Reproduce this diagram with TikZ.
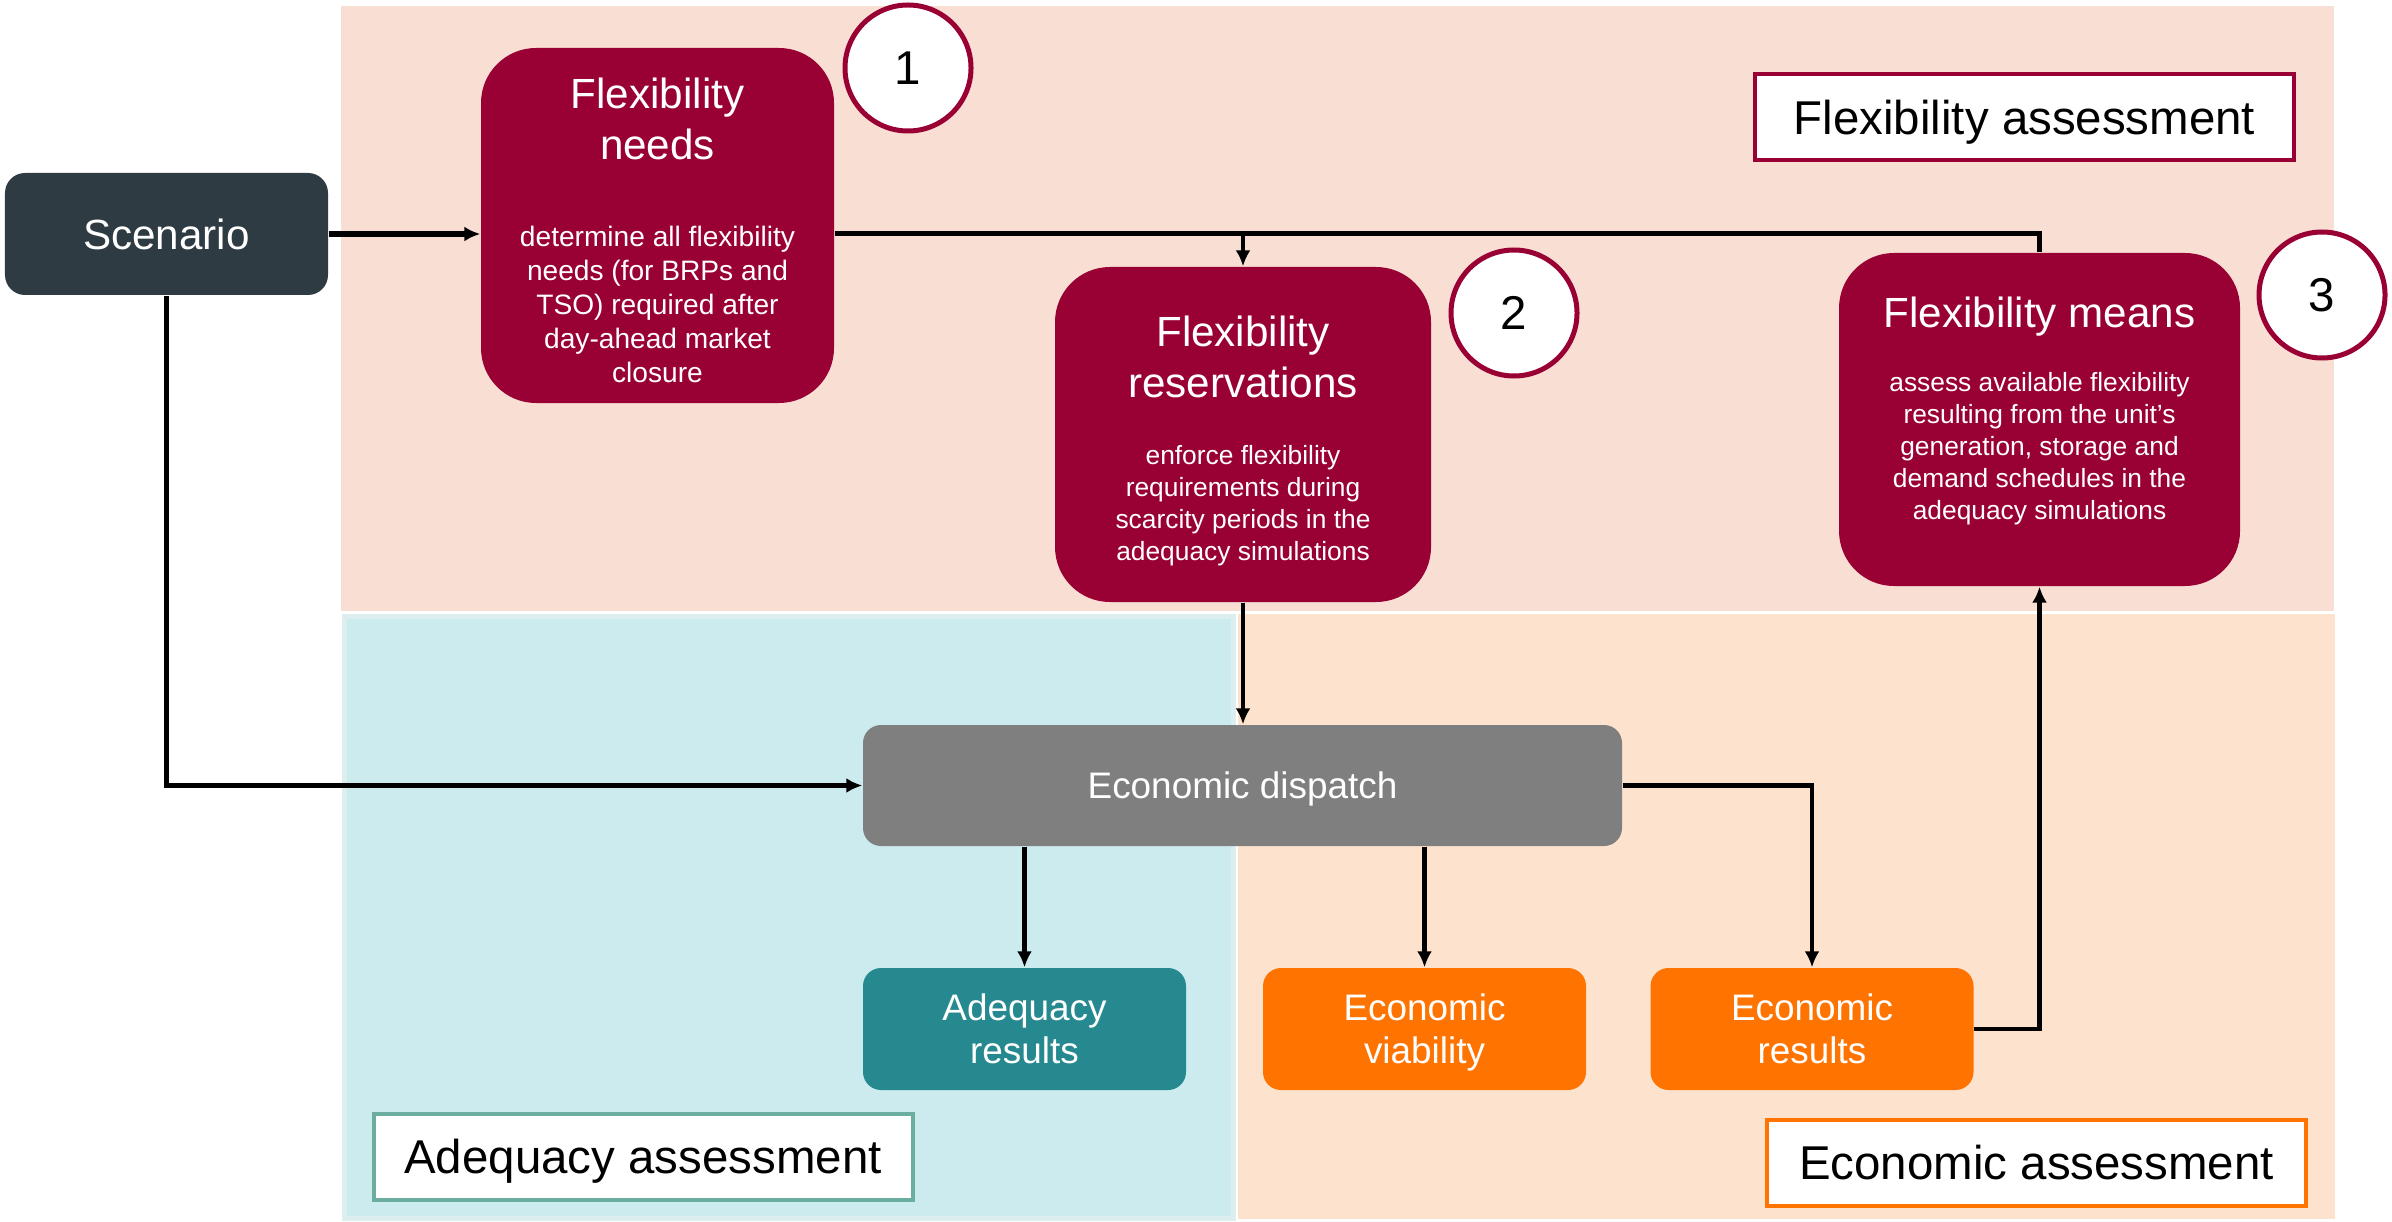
\documentclass[tikz,border=0pt]{standalone}
\usepackage{fontspec}
\setmainfont{Liberation Sans}
\usepackage{tikz}
\usetikzlibrary{arrows.meta}
\definecolor{flexred}{HTML}{990033}
\definecolor{scengray}{HTML}{2E3B43}
\definecolor{dispgray}{HTML}{7F7F7F}
\definecolor{adqteal}{HTML}{26898F}
\definecolor{ecoorange}{HTML}{FF7300}
\definecolor{flexbg}{HTML}{F9DED4}
\definecolor{adqbg}{HTML}{CBEBEF}
\definecolor{adqedge}{HTML}{DDEEEE}
\definecolor{ecobg}{HTML}{FDE3CD}
\definecolor{adqline}{HTML}{6BAE9F}

\begin{document}
\begin{tikzpicture}[
x=1mm, y=-1mm,
Box/.style={rounded corners=1.8mm, text=white, align=center, inner sep=0pt, text depth=0pt},
FlexBox/.style={fill=flexred, rounded corners=5.5mm, inner sep=0pt},
TitleText/.style={text=white, align=center, inner sep=0pt, text depth=0pt, font=\fontsize{12}{14.4}\selectfont},
DescText/.style={text=white, align=center, inner sep=0pt, text depth=0pt, font=\fontsize{7.5}{9.1}\selectfont},
NumCircle/.style={circle, draw=flexred, fill=white, line width=0.5mm, minimum size=12.6mm, inner sep=0pt, text depth=0pt, font=\fontsize{13.5}{16}\selectfont},
Label/.style={fill=white, line width=0.4mm, minimum height=8.6mm, minimum width=53.9mm, inner sep=0pt, text depth=0pt, font=\fontsize{13.5}{16}\selectfont},
Flow/.style={-{Latex[length=1.6mm, width=1.5mm]}, line width=0.45mm},
Link/.style={line width=0.5mm}
]
\useasboundingbox (0,0) rectangle (239.2,122.2);

% background areas
\fill[flexbg] (34.1,0.6) rectangle (233.4,61.1);
\fill[adqbg, draw=adqedge, line width=0.5mm] (34.4,61.6) rectangle (123.3,121.8);
\fill[ecobg] (123.8,61.4) rectangle (233.5,121.9);

% scenario
\node[Box, fill=scengray, rounded corners=2mm, minimum width=32.3mm, minimum height=12.2mm,
  font=\fontsize{12}{14.4}\selectfont] (scen) at (16.65,23.4) {Scenario};

% flexibility boxes
\node[FlexBox, minimum width=35.3mm, minimum height=35.5mm] (needs) at (65.75,22.55) {};
\node[TitleText] (needs-t) at (65.75,11.85) {Flexibility\\needs};
\node[DescText, font=\fontsize{8}{9.67}\selectfont] (needs-d) at (65.75,30.4)
  {determine all flexibility\\needs (for BRPs and\\TSO) required after\\day-ahead market\\closure};

\node[FlexBox, minimum width=37.6mm, minimum height=33.5mm] (res) at (124.3,43.45) {};
\node[TitleText] (res-t) at (124.3,35.7) {Flexibility\\reservations};
\node[DescText] (res-d) at (124.3,50.3)
  {enforce flexibility\\requirements during\\scarcity periods in the\\adequacy simulations};

\node[FlexBox, minimum width=40.1mm, minimum height=33.3mm] (means) at (203.95,41.95) {};
\node[TitleText] (means-t) at (203.95,31.2) {Flexibility means};
\node[DescText] (means-d) at (203.95,44.6)
  {assess available flexibility\\resulting from the unit’s\\generation, storage and\\demand schedules in the\\adequacy simulations};

\node[NumCircle] (n1) at (90.8,6.8) {1};
\node[NumCircle] (n2) at (151.4,31.3) {2};
\node[NumCircle] (n3) at (232.2,29.5) {3};

% dispatch and results
\node[Box, fill=dispgray, minimum width=75.9mm, minimum height=12.1mm,
  font=\fontsize{10.5}{12.2}\selectfont] (disp) at (124.25,78.55) {Economic dispatch};
\node[Box, fill=adqteal, minimum width=32.3mm, minimum height=12.2mm,
  font=\fontsize{10.5}{12.2}\selectfont] (adq) at (102.45,102.9) {Adequacy\\results};
\node[Box, fill=ecoorange, minimum width=32.3mm, minimum height=12.2mm,
  font=\fontsize{10.5}{12.2}\selectfont] (via) at (142.45,102.9) {Economic\\viability};
\node[Box, fill=ecoorange, minimum width=32.3mm, minimum height=12.2mm,
  font=\fontsize{10.5}{12.2}\selectfont] (ecr) at (181.2,102.9) {Economic\\results};

% area labels
\node[Label, draw=flexred] (flexlab) at (202.45,11.7) {Flexibility assessment};
\node[Label, draw=adqline] (adqlab) at (64.3,115.65) {Adequacy assessment};
\node[Label, draw=ecoorange] (ecolab) at (203.65,116.25) {Economic assessment};

% connectors
\draw[Flow, line width=0.55mm] (scen.east) -- (scen.east -| needs.west);
\draw[Link] (scen.east -| needs.east) -| (means.north);
\draw[Flow] (res.north |- scen.east) -- (res.north);
\draw[Flow, line width=0.55mm] (scen.south) |- (disp.west);
\draw[Flow] (res.south) -- (res.south |- disp.north);
\draw[Flow] (disp.south -| adq.north) -- (adq.north);
\draw[Flow] (disp.south -| via.north) -- (via.north);
\draw[Flow] (disp.east) -| (ecr.north);
\draw[Flow] (ecr.east) -| (means.south);

\end{tikzpicture}
\end{document}
